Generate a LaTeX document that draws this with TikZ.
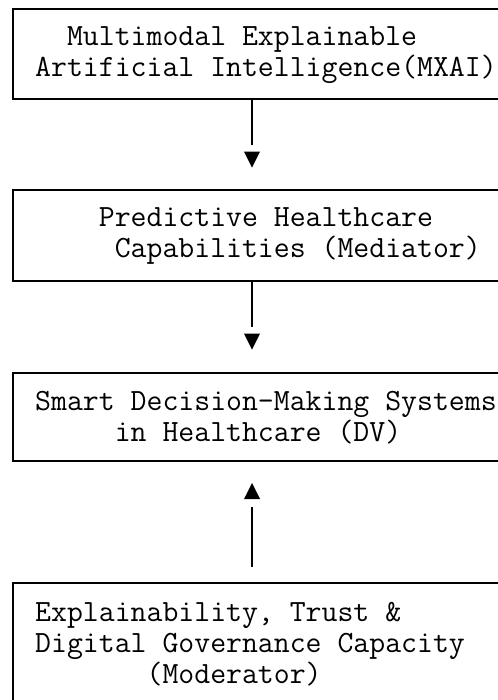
\documentclass[tikz,border=0pt]{standalone}
\usepackage{fontspec}
\usetikzlibrary{positioning}

% one column of the monospaced text
\newcommand{\colskip}[1]{\hspace*{#1\fontcharwd\font`M}}

\tikzset{
  box/.style={draw, line width=1.6pt, anchor=north west, inner sep=0pt, minimum width=520pt},
  boxtext/.style={anchor=base west, inner sep=0pt, align=left,
    font=\ttfamily\fontsize{30.9}{31}\selectfont},
  link/.style={line width=1.6pt},
  tiphead/.style={fill=black}
}

\begin{document}
\begin{tikzpicture}[x=1pt,y=1pt]
        \useasboundingbox (0,0) rectangle (497,-700);
        \coordinate (axis) at (252,0);

        % boxes
        \node[box, minimum height=90pt]  (mxai) at (12,-8)   {};
        \node[box, minimum height=91pt]  (phc)  at (12,-189) {};
        \node[box, minimum height=88pt]  (sdm)  at (12,-372) {};
        \node[box, minimum height=140pt] (gov)  at (12,-582) {};

        % texts (anchored at the baseline of their last line)
        \node[boxtext] (mxai-txt) at ([xshift=23pt,yshift=-69pt]mxai.north west)
                {\colskip{2}Multimodal Explainable\\Artificial Intelligence(MXAI)};
        \node[boxtext] (phc-txt) at ([xshift=23pt,yshift=-69pt]phc.north west)
                {\colskip{4}Predictive Healthcare\\\colskip{5}Capabilities (Mediator)};
        \node[boxtext] (sdm-txt) at ([xshift=23pt,yshift=-69pt]sdm.north west)
                {Smart Decision-Making Systems\\\colskip{5}in Healthcare (DV)};
        \node[boxtext] (gov-txt) at ([xshift=23pt,yshift=-101pt]gov.north west)
                {Explainability, Trust \&\\Digital Governance Capacity\\\colskip{7}(Moderator)};

        % arrows
        \draw[link] (mxai.south -| axis) -- ++(0,-45) coordinate (a1);
        \fill[tiphead] ([shift={(-8,-7)}]a1) -- ++(16,0) -- ++(-8,-16) -- cycle;
        \draw[link] (phc.south -| axis) -- ++(0,-45) coordinate (a2);
        \fill[tiphead] ([shift={(-8,-7)}]a2) -- ++(16,0) -- ++(-8,-16) -- cycle;
        \draw[link, shorten <=15pt] (gov.north -| axis) -- ++(0,75) coordinate (a3);
        \fill[tiphead] ([shift={(-8,8)}]a3) -- ++(16,0) -- ++(-8,16) -- cycle;
\end{tikzpicture}
\end{document}
